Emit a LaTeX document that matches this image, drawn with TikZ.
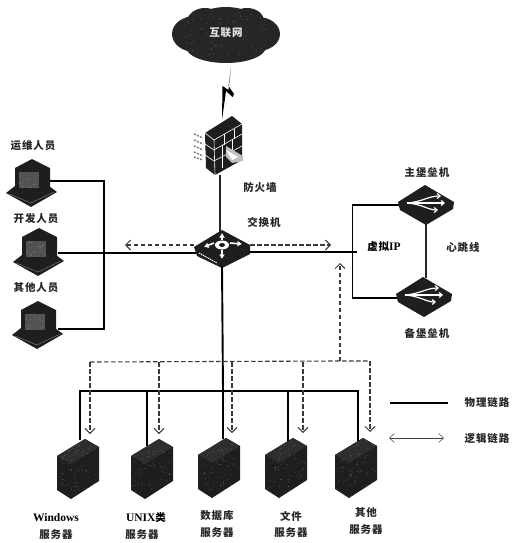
\documentclass[tikz,border=0pt]{standalone}
\usepackage{fontspec}
\setmainfont{Liberation Serif}
\newfontfamily\cjk[LetterSpace=9]{Noto Sans CJK SC}
\usetikzlibrary{arrows.meta}
\definecolor{ink}{HTML}{1E1E1E}
\definecolor{dashink}{HTML}{3A3A3A}
\pgfmathsetseed{7}
\newcommand{\speckle}[5]{\foreach \i in {1,...,#5}{\pgfmathsetmacro{\px}{#1+rnd*(#3-#1)}\pgfmathsetmacro{\py}{#2+rnd*(#4-#2)}\fill[white,opacity=.3] (\px,\py) circle[radius=.45];}}
\tikzset{
  x=1pt,y=-1pt,
  lab/.style={font=\cjk\bfseries\fontsize{10.5}{13}\selectfont,text=black!85,inner sep=0pt,align=center},
  latin/.style={font=\bfseries\fontsize{11.5}{13}\selectfont,text=black,inner sep=0pt,align=center},
  phys/.style={draw=black,line width=1.9pt},
  thinphys/.style={draw=black!85,line width=1.5pt},
  logic/.style={draw=dashink,line width=1.1pt,dash pattern=on 4.5pt off 2.5pt},
  logicarrow/.style={logic,-{Straight Barb[length=5pt,width=10pt,line width=.9pt]}},
  pics/pcicon/.style={code={
    \fill[ink] (0,34)--(9,27)--(43,27)--(51,33)--(25,48)--cycle;
    \fill[ink] (9,9)--(26,0)--(44,9)--(44,31)--(25,38)--(9,32)--cycle;
    \fill[black!68] (13,13)--(33,13)--(33,29)--(13,29)--cycle;
    \speckle{13}{13}{33}{29}{22}
    \draw[white,opacity=.45,line width=.4pt] (3,35)--(25,44)--(48,33);
  }},
  pics/servericon/.style={code={
    \fill[ink] (0,17)--(28,0)--(42,8)--(42,42)--(14,60)--(0,51)--cycle;
    \fill[black!82] (0,17)--(28,0)--(42,8)--(14,25)--cycle;
    \speckle{1}{6}{40}{52}{70}
  }},
  pics/bastionicon/.style={code={
    \fill[ink] (0,17)--(27,0)--(56,17)--(55,24)--(28,40)--(2,25)--cycle;
    \draw[white,line width=1.2pt,-{Straight Barb[length=3pt,width=5pt]}] (9,18) .. controls (24,17) and (30,11) .. (43,11);
    \draw[white,line width=1.2pt,-{Straight Barb[length=3pt,width=5pt]}] (9,18) -- (47,18);
    \draw[white,line width=1.2pt,-{Straight Barb[length=3pt,width=5pt]}] (9,18) .. controls (24,19) and (30,25) .. (40,25);
  }}
}
\begin{document}
\begin{tikzpicture}
\useasboundingbox (0,0) rectangle (522,543);
% ---- cloud
\begin{scope}[fill=black!85]
\fill (226,31) ellipse[x radius=38,y radius=24];
\fill (195,34) ellipse[x radius=23,y radius=18];
\fill (258,34) ellipse[x radius=22,y radius=17];
\fill (226,47) ellipse[x radius=40,y radius=16];
\fill (205,22) ellipse[x radius=18,y radius=14];
\fill (247,21) ellipse[x radius=17,y radius=13];
\end{scope}
\begin{scope}
\clip (172,6) rectangle (280,63);
\speckle{182}{12}{272}{56}{90}
\end{scope}
\node[lab,text=white!90!black] (internet) at (226,33) {互联网};
% ---- lightning
\coordinate (boltTop) at (231,68);
\coordinate (boltBottom) at (222,120);
\fill[black] (boltTop)--(228.5,86)--(234,94)--(232.5,97)--(226,91)--(boltBottom)--(222.5,86)--(228.5,90)--cycle;
% ---- firewall
\fill[ink] (205,133)--(232,116)--(242,124)--(242,160)--(215,175)--(206,168)--cycle;
\begin{scope}[draw=white,line width=.6pt]
\draw (205,133)--(214,140)--(242,124);
\draw (214,140)--(215,175);
\draw (214,150)--(242,134);
\draw (214,161)--(242,146);
\draw (205,144)--(214,150) (205,155)--(214,161);
\draw (224,134)--(224,145) (234,129)--(234,139) (222,145)--(222,156) (232,140)--(232,151) (222,157)--(222,168);
\end{scope}
\fill[black!25] (226,146)--(243,156)--(243,161)--(232,163)--(226,157)--cycle;
\fill[white] (226,150)--(238,157)--(232,160)--cycle;
\begin{scope}[draw=black!50,line width=1.5pt,dash pattern=on 2pt off 1.2pt]
\draw (194,134)--(203,138) (194,140)--(203,144) (194,146)--(203,150) (194,152)--(203,156) (194,157)--(203,160);
\end{scope}
\coordinate (fwBottom) at (220,175);
% ---- switch
\fill[ink] (194,247)--(222,230)--(250,245)--(250,254)--(222,268)--(197,256)--cycle;
\begin{scope}[draw=white,line width=1.6pt,-{Latex[length=4.5pt,width=6pt]}]
\draw (214,243)--(204,247);
\draw (230,243)--(242,244);
\draw (222,240)--(222,233);
\draw (222,250)--(222,259);
\end{scope}
\fill[white] (222,245) ellipse[x radius=7,y radius=4.5];
\fill[ink] (222,245) ellipse[x radius=3,y radius=2];
\draw[white,line width=1pt,dash pattern=on 1.3pt off .8pt] (199,253)--(217,263);
\coordinate (swLeft) at (196,253);
\coordinate (swRight) at (249,252);
\coordinate (swTop) at (220,232);
\coordinate (swBottom) at (222,266);
\coordinate (swLeftD) at (194,245);
\coordinate (swRightD) at (250,245);
% ---- people
\pic at (6,159) {pcicon};
\pic at (13,228) {pcicon};
\pic at (12,301) {pcicon};
\coordinate (pcA) at (50,181);
\coordinate (pcB) at (58,253);
\coordinate (pcC) at (58,329);
\coordinate (leftBus) at (104,181);
\coordinate (leftBusEnd) at (104,329);
\draw[phys] (pcA)--(leftBus)--(leftBusEnd)--(pcC);
\draw[phys] (pcB)--(swLeft);
\node[lab] (opsLabel) at (33,146) {运维人员};
\node[lab] (devLabel) at (36,219) {开发人员};
\node[lab] (otherLabel) at (36,288) {其他人员};
% ---- firewall links
\draw[thinphys] (fwBottom)--(swTop);
\node[lab] (fwLabel) at (260,187) {防火墙};
\node[lab] (swLabel) at (264,222) {交换机};
% ---- bastion
\pic at (398,185) {bastionicon};
\pic at (396,277) {bastionicon};
\coordinate (mainPort) at (399,205);
\coordinate (backPort) at (397,298);
\coordinate (brkTop) at (352.5,205);
\coordinate (brkBot) at (352.5,298);
\coordinate (vipEnd) at (357,252);
\coordinate (mainBot) at (426,223);
\coordinate (backTop) at (426,278);
\draw[phys] (swRight)--(vipEnd);
\draw[phys] (mainPort)--(brkTop)--(brkBot)--(backPort);
\draw[thinphys] (mainBot)--(backTop);
\node[lab] (mainLabel) at (427,172) {主堡垒机};
\node[lab] (backLabel) at (427,333) {备堡垒机};
\node[lab] (hbLabel) at (463,247) {心跳线};
\node[inner sep=0pt] (vipLabel) at (384,247) {{\cjk\bfseries\fontsize{10.5}{13}\selectfont 虚拟}{\bfseries\fontsize{11.5}{13}\selectfont IP}};
% ---- logical arrows around switch
\coordinate (logL) at (125,245);
\coordinate (logR) at (331,245);
\draw[logicarrow] (swLeftD)--(logL);
\draw[logicarrow] (swRightD)--(logR);
% ---- servers
\pic at (57,439) {servericon};
\pic at (131,439) {servericon};
\pic at (198,438) {servericon};
\pic at (265,438) {servericon};
\pic at (335,438) {servericon};
\coordinate (busL) at (80,391);
\coordinate (busB) at (147,391);
\coordinate (busC) at (223,391);
\coordinate (busD) at (288,391);
\coordinate (busE) at (358,391);
\coordinate (srvA) at (80,440);
\coordinate (srvB) at (147,446);
\coordinate (srvC) at (223,439);
\coordinate (srvD) at (288,441);
\coordinate (srvE) at (358,441);
\draw[phys] (swBottom)--(busC);
\draw[phys] (srvA)--(busL)--(busE)--(srvE);
\draw[phys] (busB)--(srvB);
\draw[phys] (busC)--(srvC);
\draw[phys] (busD)--(srvD);
% ---- logical tree
\coordinate (logUp) at (340,263);
\coordinate (logCorner) at (340,361);
\coordinate (logA) at (90,362);
\coordinate (logB) at (159,362);
\coordinate (logC) at (232,362);
\coordinate (logD) at (303,362);
\coordinate (logE) at (370,361);
\coordinate (tipA) at (90,434);
\coordinate (tipB) at (159,434);
\coordinate (tipC) at (232,433);
\coordinate (tipD) at (303,433);
\coordinate (tipE) at (370,432);
\draw[logicarrow] (logCorner)--(logUp);
\draw[logic] (logA)--(logCorner)--(logE);
\foreach \a/\b in {logA/tipA,logB/tipB,logC/tipC,logD/tipD,logE/tipE}
  \draw[logicarrow] (\a)--(\b);
% ---- server labels
\node[latin] (winLabel) at (56,518) {Windows};
\node[lab] (winSrv) at (56,535) {服务器};
\node[inner sep=0pt] (unixLabel) at (146,518) {{\bfseries\fontsize{11.5}{13}\selectfont UNIX}{\cjk\bfseries\fontsize{10.5}{13}\selectfont 类}};
\node[lab] (unixSrv) at (142,535) {服务器};
\node[lab] (dbLabel) at (217,515) {数据库};
\node[lab] (dbSrv) at (217,533) {服务器};
\node[lab] (fileLabel) at (291,516) {文件};
\node[lab] (fileSrv) at (291,533) {服务器};
\node[lab] (othLabel) at (366,513) {其他};
\node[lab] (othSrv) at (366,530) {服务器};
% ---- legend
\coordinate (legA) at (390,403);
\coordinate (legB) at (448,403);
\coordinate (legC) at (389,438);
\coordinate (legD) at (444,438);
\draw[phys] (legA)--(legB);
\draw[draw=black!75,line width=.5pt,{Straight Barb[length=5pt,width=9pt]}-{Straight Barb[length=5pt,width=9pt]}] (legC)--(legD);
\node[lab] (physLabel) at (487,403) {物理链路};
\node[lab] (logLabel) at (487,439) {逻辑链路};
\end{tikzpicture}
\end{document}
